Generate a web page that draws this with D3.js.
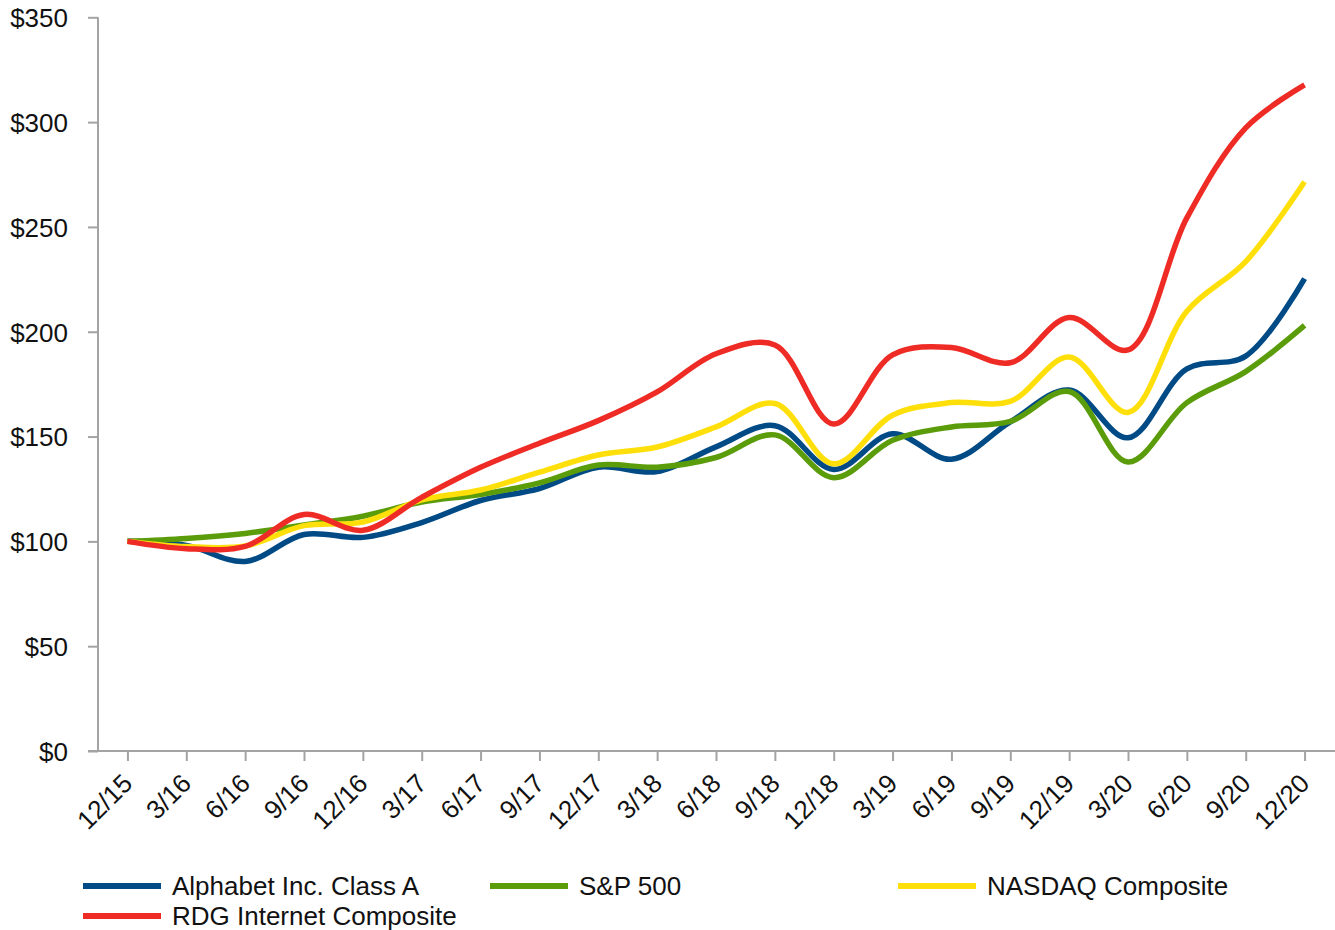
<!DOCTYPE html>
<html>
<head>
<meta charset="utf-8">
<script src="https://cdn.jsdelivr.net/npm/d3@7"></script>
<style>
  html, body { margin: 0; padding: 0; background: #fff; }
  svg { display: block; font-family: "Liberation Sans", Arial, sans-serif; }
</style>
</head>
<body>
<svg id="chart" width="1335" height="930"></svg>
<script>
const categories = ["12/15","3/16","6/16","9/16","12/16","3/17","6/17","9/17","12/17","3/18","6/18","9/18","12/18","3/19","6/19","9/19","12/19","3/20","6/20","9/20","12/20"];
const alphabet = [100, 98.1, 90.4, 103.3, 101.9, 109.0, 119.5, 125.2, 135.4, 133.3, 145.1, 155.2, 134.3, 151.3, 139.2, 157.0, 172.2, 149.4, 182.3, 188.4, 225.3];
const sp500    = [100, 101.4, 103.8, 107.8, 112.0, 118.8, 122.4, 127.9, 136.4, 135.4, 140.0, 150.8, 130.4, 148.2, 154.6, 157.2, 171.5, 137.9, 166.2, 181.0, 203.0];
const nasdaq   = [100, 97.5, 97.8, 107.5, 109.2, 119.8, 124.5, 133.0, 141.2, 145.0, 154.6, 165.8, 137.0, 160.2, 166.2, 166.8, 187.9, 161.5, 209.8, 233.5, 271.5];
const rdg      = [100, 96.5, 97.6, 112.8, 105.3, 121.0, 135.3, 146.8, 157.6, 171.3, 189.5, 193.7, 156.0, 189.0, 192.5, 185.2, 206.8, 191.3, 254.3, 297.3, 317.8];
const seriesNames = ["Alphabet Inc. Class A", "S&P 500", "NASDAQ Composite", "RDG Internet Composite"];
const seriesColors = ["#004a85", "#5b9c0b", "#ffdf0a", "#ef2b25"];
const yTicks = [0, 50, 100, 150, 200, 250, 300, 350];

const seriesData = [alphabet, sp500, nasdaq, rdg];
const svg = d3.select("#chart");

const x = d3.scalePoint().domain(categories).range([98, 1334]).padding(0.5);
const y = d3.scaleLinear().domain([0, 350]).range([751, 17.3]);

const axisColor = "#a3a3a3";
const fontSize = 26;

// Y axis
const yAxis = svg.append("g").attr("transform", "translate(98,0)")
  .call(d3.axisLeft(y).tickValues(yTicks).tickSize(10).tickFormat(d => "$" + d));
yAxis.select(".domain").attr("stroke", axisColor).attr("stroke-width", 2).attr("d", "M0,751V17.3");
yAxis.selectAll(".tick line").attr("stroke", axisColor).attr("stroke-width", 2);
yAxis.selectAll(".tick text").attr("font-size", fontSize).attr("fill", "#111").attr("x", -30).attr("dy", "0.36em");

// X axis
const xAxis = svg.append("g").attr("transform", "translate(0,751)")
  .call(d3.axisBottom(x).tickSize(10).tickSizeOuter(0));
xAxis.select(".domain").attr("stroke", axisColor).attr("stroke-width", 2).attr("d", "M88,0H1335");
xAxis.selectAll(".tick line").attr("stroke", axisColor).attr("stroke-width", 2);
xAxis.selectAll(".tick text")
  .attr("font-size", fontSize).attr("fill", "#111")
  .attr("text-anchor", "end")
  .attr("x", 0).attr("y", 0).attr("dy", 0)
  .attr("transform", "translate(6,34) rotate(-45)");

// Lines
const line = d3.line()
  .x((d, i) => x(categories[i]))
  .y(d => y(d))
  .curve(d3.curveCatmullRom.alpha(0.5));

svg.append("g").selectAll("path")
  .data(seriesData)
  .join("path")
  .attr("d", d => line(d))
  .attr("fill", "none")
  .attr("stroke", (d, i) => seriesColors[i])
  .attr("stroke-width", 5.5);

// Legend
const legendPos = [
  {x: 83, y: 886}, {x: 490, y: 886}, {x: 898, y: 886}, {x: 83, y: 916}
];
const lg = svg.append("g").selectAll("g")
  .data(seriesNames)
  .join("g")
  .attr("transform", (d, i) => `translate(${legendPos[i].x},${legendPos[i].y})`);
lg.append("line")
  .attr("x1", 0).attr("x2", 78).attr("y1", 0).attr("y2", 0)
  .attr("stroke", (d, i) => seriesColors[i]).attr("stroke-width", 6);
lg.append("text")
  .attr("x", 89).attr("y", 0).attr("dy", "0.36em")
  .attr("font-size", fontSize).attr("fill", "#111")
  .text(d => d);
</script>
</body>
</html>
